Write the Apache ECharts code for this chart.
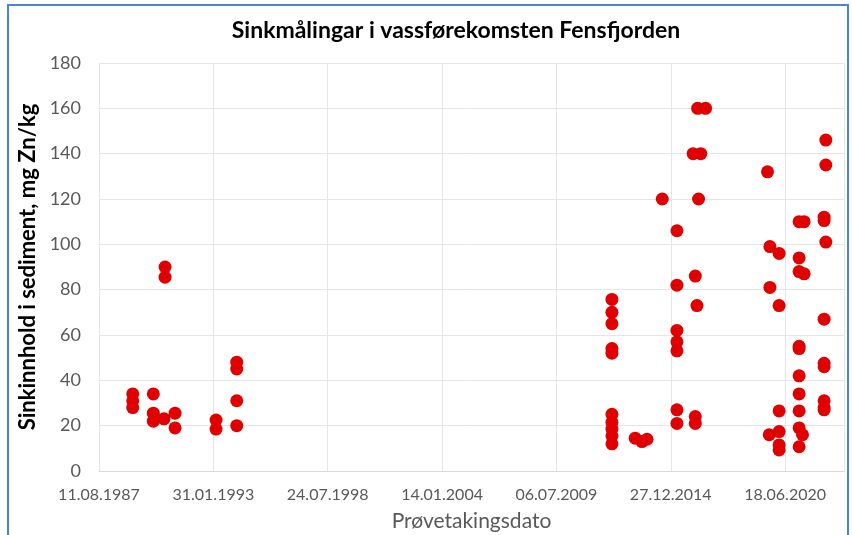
<!DOCTYPE html>
<html>
<head>
<meta charset="utf-8">
<script src="https://cdn.jsdelivr.net/npm/echarts@6/dist/echarts.min.js"></script>
<style>
    html, body { margin: 0; padding: 0; background: #fff; }
    #chart { width: 852px; height: 535px; }
    #frame {
        position: absolute; left: 7px; top: 4px; width: 838px; height: 560px;
        border: 2px solid #4a86cf; pointer-events: none;
    }
</style>
</head>
<body>
<div id="chart"></div>
<div id="frame"></div>
<script>
// x-aksen: dagar frå 11.08.1987 (første tikk), tikk kvar 2000. dag
var baseDate = '1987-08-11';
var tickDays = [0, 2000, 4000, 6000, 8000, 10000, 12000];
var yTicks = [0, 20, 40, 60, 80, 100, 120, 140, 160, 180];

// prøvetakingsdato og sinkinnhald (mg Zn/kg)
var dates = [
    '1989-03-23', '1989-03-23', '1989-03-23',
    '1990-03-18', '1990-03-18', '1990-03-18',
    '1990-09-21', '1990-10-09', '1990-10-09',
    '1991-04-02', '1991-04-02',
    '1993-03-19', '1993-03-19',
    '1994-03-16', '1994-03-16', '1994-03-16', '1994-03-16',
    '2012-03-03', '2012-03-03', '2012-03-03', '2012-03-03', '2012-03-03',
    '2012-03-03', '2012-03-03', '2012-03-03', '2012-03-03', '2012-03-03',
    '2013-04-14', '2013-08-10', '2013-11-06',
    '2014-07-31',
    '2015-04-14', '2015-04-14', '2015-04-14', '2015-04-14', '2015-04-14', '2015-04-14', '2015-04-14',
    '2016-01-22', '2016-02-29', '2016-02-29', '2016-02-29', '2016-03-29',
    '2016-04-10', '2016-04-26', '2016-06-04', '2016-08-27',
    '2019-08-15', '2019-09-26', '2019-09-26', '2019-09-14',
    '2020-03-05', '2020-03-05', '2020-03-05', '2020-03-05', '2020-03-05', '2020-03-05',
    '2021-02-18', '2021-02-18', '2021-02-18', '2021-02-18', '2021-02-18',
    '2021-02-18', '2021-02-18', '2021-02-18', '2021-02-18', '2021-02-18',
    '2021-04-18', '2021-05-16', '2021-05-16',
    '2022-05-01', '2022-05-01', '2022-05-01', '2022-05-01', '2022-05-01', '2022-05-01', '2022-05-01',
    '2022-05-31', '2022-05-31', '2022-05-31', '2022-05-01'
];
var zinc = [
    34, 31, 28,
    34, 25.5, 22,
    23, 90, 85.5,
    25.5, 19,
    22.5, 18.5,
    48, 45, 31, 20,
    75.7, 70, 65, 54, 52,
    25, 21.5, 18.5, 15.5, 12,
    14.5, 13, 14,
    120,
    106, 82, 62, 57, 53, 27, 21,
    140, 86, 24, 21, 73,
    160, 120, 140, 160,
    132, 99, 81, 16,
    96, 73, 26.5, 17.4, 11.5, 9.3,
    110, 94, 88, 55, 54,
    42, 34, 26.5, 19, 10.7,
    16, 110, 87,
    110.5, 112, 67, 47.5, 46, 31, 27,
    146, 135, 101, 28
];

var DAY = 86400000;
var t0 = Date.parse(baseDate);
function toDay(s) { return (Date.parse(s) - t0) / DAY; }
function pad(n) { return (n < 10 ? '0' : '') + n; }
function dayLabel(d) {
    if (tickDays.indexOf(Math.round(d)) < 0) return '';
    var t = new Date(t0 + d * DAY);
    return pad(t.getUTCDate()) + '.' + pad(t.getUTCMonth() + 1) + '.' + t.getUTCFullYear();
}

var points = dates.map(function (s, i) { return [toDay(s), zinc[i]]; });

var chart = echarts.init(document.getElementById('chart'));
var option = {
    animation: false,
    title: {
        text: 'Sinkmålingar i vassførekomsten Fensfjorden',
        left: 451,
        top: 14,
        textAlign: 'center',
        textStyle: { fontFamily: 'Lato', fontSize: 23, fontWeight: 'bold', color: '#000' }
    },
    grid: { left: 99, right: 8, top: 63, bottom: 64, outerBoundsMode: 'none' },
    xAxis: {
        type: 'value',
        min: tickDays[0],
        max: 13030,
        interval: 2000,
        name: 'Prøvetakingsdato',
        nameLocation: 'middle',
        nameGap: 40,
        nameTextStyle: { fontFamily: 'Lato', fontSize: 21, color: '#595959' },
        axisLine: { show: true, lineStyle: { color: '#d9d9d9' } },
        axisTick: { show: false },
        splitLine: { show: true, lineStyle: { color: '#e6e6e6' } },
        axisLabel: {
            margin: 16,
            fontFamily: 'Lato', fontSize: 16, color: '#595959',
            formatter: dayLabel
        }
    },
    yAxis: {
        type: 'value',
        min: yTicks[0],
        max: yTicks[yTicks.length - 1],
        interval: 20,
        name: 'Sinkinnhold i sediment, mg Zn/kg',
        nameLocation: 'middle',
        nameGap: 50,
        nameTextStyle: { fontFamily: 'Lato', fontSize: 22, fontWeight: 'bold', color: '#000' },
        axisLine: { show: false },
        axisTick: { show: false },
        splitLine: { show: true, lineStyle: { color: '#e6e6e6' } },
        axisLabel: { margin: 18, fontFamily: 'Lato', fontSize: 18, color: '#595959' }
    },
    series: [
        {
            type: 'scatter',
            symbol: 'circle',
            symbolSize: 13,
            itemStyle: { color: '#e00000', opacity: 1 },
            data: points
        }
    ]
};
chart.setOption(option);
</script>
</body>
</html>
